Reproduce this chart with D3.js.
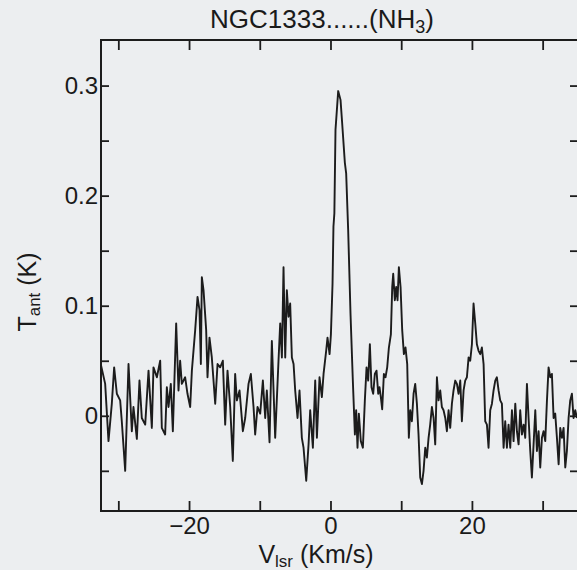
<!DOCTYPE html>
<html>
<head>
<meta charset="utf-8">
<script src="https://cdn.jsdelivr.net/npm/d3@7"></script>
<style>
  html, body { margin: 0; padding: 0; background: #eceef0; }
  svg { display: block; }
  text { font-family: "Liberation Sans", Arial, Helvetica, sans-serif; fill: #1a1a1a; }
</style>
</head>
<body>
<svg id="chart" width="577" height="570"></svg>
<script>
// ---- data ----
const titleText = "NGC1333......(NH";
const vel = [
  -32.45, -31.86, -31.39, -30.92, -30.59, -30.21, -29.74, -29.51, -29.03, -28.56,
  -28.09, -27.86, -27.38, -27.01, -26.68, -26.20, -25.73, -25.26, -25.03, -24.55,
  -24.08, -23.85, -23.38, -23.14, -22.90, -22.58, -22.29, -21.82, -21.49, -21.26,
  -21.02, -20.55, -20.22, -19.84, -19.60, -19.13, -18.80, -18.52, -18.33, -18.19,
  -17.95, -17.58, -17.39, -17.11, -16.78, -16.30, -15.97, -15.60, -15.22, -14.89,
  -14.56, -14.18, -13.81, -13.48, -13.24, -12.86, -12.39, -12.06, -11.59, -11.26,
  -10.88, -10.65, -10.32, -9.94, -9.56, -9.23, -9.00, -8.62, -8.29, -7.82,
  -7.35, -7.11, -6.87, -6.64, -6.40, -6.17, -5.93, -5.70, -5.46, -5.22,
  -4.99, -4.66, -4.38, -4.05, -3.81, -3.43, -3.10, -2.87, -2.49, -2.16,
  -1.92, -1.55, -1.22, -0.98, -0.61, -0.42, -0.13, 0.06, 0.29, 0.42,
  0.55, 0.71, 1.09, 1.42, 1.65, 2.03, 2.22, 2.50, 2.83, 3.16,
  3.45, 3.63, 3.82, 4.01, 4.29, 4.58, 4.86, 5.10, 5.33, 5.57,
  5.80, 6.04, 6.27, 6.51, 6.75, 6.93, 7.12, 7.31, 7.55, 7.78,
  8.02, 8.26, 8.54, 8.73, 8.87, 9.10, 9.29, 9.48, 9.67, 9.91,
  10.14, 10.38, 10.61, 10.85, 11.08, 11.28, 11.51, 11.75, 11.98, 12.22,
  12.45, 12.69, 12.93, 13.16, 13.40, 13.63, 13.87, 14.10, 14.34, 14.58,
  14.81, 15.05, 15.28, 15.52, 15.75, 15.99, 16.23, 16.46, 16.70, 16.93,
  17.17, 17.40, 17.64, 17.88, 18.11, 18.35, 18.58, 18.82, 19.05, 19.29,
  19.53, 19.76, 20.00, 20.23, 20.47, 20.70, 20.94, 21.18, 21.41, 21.65,
  21.88, 22.12, 22.35, 22.59, 22.83, 23.06, 23.30, 23.53, 23.77, 24.00,
  24.24, 24.48, 24.71, 24.95, 25.18, 25.42, 25.66, 25.89, 26.13, 26.36,
  26.60, 26.83, 27.07, 27.31, 27.54, 27.78, 28.01, 28.25, 28.48, 28.72,
  28.96, 29.19, 29.43, 29.66, 29.90, 30.13, 30.37, 30.61, 30.84, 31.08,
  31.31, 31.55, 31.78, 32.02, 32.26, 32.49, 32.73, 32.96, 33.20, 33.43,
  33.67, 33.90, 34.14, 34.37, 34.61, 34.85
];
const tant = [
  0.046, 0.029, -0.023, 0.011, 0.044, 0.020, 0.014, -0.005, -0.050, 0.047,
  -0.014, 0.008, -0.021, 0.032, -0.002, -0.008, 0.041, -0.011, 0.044, 0.035,
  0.050, -0.011, -0.017, 0.026, 0.008, 0.029, -0.014, 0.084, 0.023, 0.050,
  0.029, 0.035, 0.020, 0.008, 0.041, 0.078, 0.108, 0.096, 0.047, 0.126,
  0.114, 0.078, 0.035, 0.071, 0.053, 0.011, 0.047, 0.044, 0.050, -0.008,
  0.041, 0.008, -0.041, 0.038, 0.014, 0.023, -0.014, -0.002, 0.029, 0.038,
  0.008, -0.017, 0.008, 0.002, 0.032, -0.002, 0.023, -0.024, 0.068, -0.020,
  0.050, 0.084, 0.053, 0.135, 0.053, 0.114, 0.090, 0.102, 0.053, 0.047,
  0.023, -0.002, 0.023, -0.020, -0.029, -0.059, -0.026, 0.005, -0.029, 0.032,
  -0.020, 0.035, 0.017, 0.038, 0.059, 0.071, 0.056, 0.074, 0.120, 0.172,
  0.184, 0.260, 0.295, 0.287, 0.266, 0.230, 0.220, 0.169, 0.093, 0.032,
  -0.017, 0.005, -0.029, 0.002, -0.023, -0.029, 0.014, 0.044, 0.032, 0.065,
  0.026, 0.020, 0.038, 0.041, 0.020, 0.026, 0.017, 0.006, 0.038, 0.035,
  0.044, 0.062, 0.074, 0.117, 0.129, 0.105, 0.117, 0.105, 0.135, 0.117,
  0.078, 0.056, 0.062, 0.047, -0.020, 0.005, -0.005, 0.020, 0.029, 0.011,
  -0.017, -0.056, -0.062, -0.050, -0.029, -0.038, -0.020, -0.008, 0.008, -0.002,
  -0.026, 0.035, 0.014, 0.023, 0.008, 0.005, -0.002, -0.014, 0.005, -0.011,
  0.011, 0.023, 0.032, 0.029, 0.020, 0.032, -0.005, 0.023, 0.032, 0.035,
  0.053, 0.050, 0.065, 0.102, 0.084, 0.065, 0.059, 0.056, 0.062, 0.047,
  -0.005, -0.008, -0.029, 0.005, 0.011, 0.023, 0.032, 0.035, 0.023, 0.014,
  0.011, -0.029, -0.005, -0.029, -0.008, -0.029, 0.005, -0.023, 0.011, -0.014,
  -0.026, 0.005, -0.017, -0.008, -0.020, 0.029, -0.002, -0.032, -0.056, -0.026,
  0.005, -0.032, -0.014, -0.047, -0.020, -0.014, -0.023, 0.014, 0.044, 0.035,
  0.038, -0.002, 0.002, -0.020, -0.044, -0.011, -0.020, -0.011, -0.047, -0.032,
  -0.002, 0.014, 0.020, -0.002, 0.005, -0.002
];
const xTicks = [-30, -20, -10, 0, 10, 20, 30];
const xTickLabels = [-20, 0, 20];
const yTicks = [-0.05, 0, 0.05, 0.1, 0.15, 0.2, 0.25, 0.3];
const yTickLabels = [0, 0.1, 0.2, 0.3];
const xDomain = [-32.45, 35];
const yDomain = [-0.0865, 0.3414];

// ---- layout ----
const mLeft = 101, mRight = 578, mTop = 40, mBottom = 511;
const svg = d3.select("#chart");
const x = d3.scaleLinear().domain(xDomain).range([mLeft, mRight]);
const y = d3.scaleLinear().domain(yDomain).range([mBottom, mTop]);
const ink = "#1c1c1c";
const fs = 24;

const fmtX = d => xTickLabels.includes(d) ? (d < 0 ? "\u2212" + Math.abs(d) : String(d)) : "";
const fmtY = d => yTickLabels.some(v => Math.abs(v - d) < 1e-9) ? (d === 0 ? "0" : d.toFixed(1)) : "";

function styleAxis(g) {
  g.select(".domain").remove();
  g.selectAll(".tick line").attr("stroke", ink).attr("stroke-width", 1.8);
  g.selectAll(".tick text").attr("fill", ink).style("font-size", fs + "px")
    .style("font-family", '"Liberation Sans", Arial, sans-serif');
}

svg.append("g").attr("transform", `translate(0,${mBottom})`)
  .call(d3.axisBottom(x).tickValues(xTicks).tickFormat(fmtX).tickSize(-10).tickPadding(6))
  .call(styleAxis);
svg.append("g").attr("transform", `translate(0,${mTop})`)
  .call(d3.axisTop(x).tickValues(xTicks).tickFormat("").tickSize(-10))
  .call(styleAxis);
svg.append("g").attr("transform", `translate(${mLeft},0)`)
  .call(d3.axisLeft(y).tickValues(yTicks).tickFormat(fmtY).tickSize(-8).tickPadding(3))
  .call(styleAxis);
svg.append("g").attr("transform", `translate(${mRight},0)`)
  .call(d3.axisRight(y).tickValues(yTicks).tickFormat("").tickSize(-8))
  .call(styleAxis);

// frame
svg.append("rect").attr("x", mLeft).attr("y", mTop)
  .attr("width", mRight - mLeft).attr("height", mBottom - mTop)
  .attr("fill", "none").attr("stroke", ink).attr("stroke-width", 2);

// spectrum
const pts = vel.map((v, i) => [v, tant[i]]);
svg.append("path").datum(pts)
  .attr("fill", "none").attr("stroke", ink).attr("stroke-width", 1.9)
  .attr("stroke-linejoin", "round")
  .attr("d", d3.line().x(d => x(d[0])).y(d => y(d[1])));

// title
const t = svg.append("text").attr("x", 322).attr("y", 28).attr("text-anchor", "middle")
  .style("font-size", "26px");
t.append("tspan").text(titleText);
t.append("tspan").text("3").attr("dy", 5).style("font-size", "18px");
t.append("tspan").text(")").attr("dy", -5);

// x label
const xl = svg.append("text").attr("x", 316).attr("y", 563).attr("text-anchor", "middle")
  .style("font-size", "25px");
xl.append("tspan").text("V");
xl.append("tspan").text("lsr").attr("dy", 4).style("font-size", "17px");
xl.append("tspan").text(" (Km/s)").attr("dy", -4);

// y label
const yl = svg.append("text").attr("transform", "translate(36,292) rotate(-90)")
  .attr("text-anchor", "middle").style("font-size", "25px");
yl.append("tspan").text("T");
yl.append("tspan").text("ant").attr("dy", 4).style("font-size", "17px");
yl.append("tspan").text(" (K)").attr("dy", -4);
</script>
</body>
</html>
